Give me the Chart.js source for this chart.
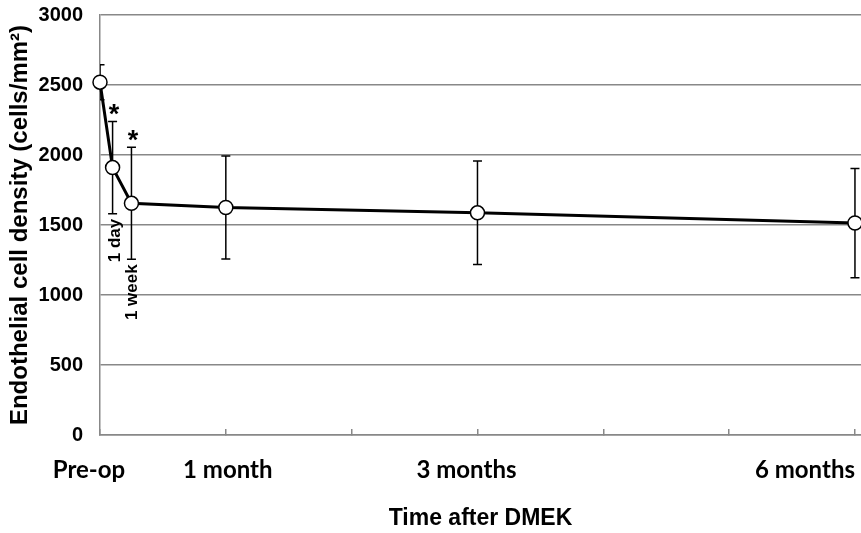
<!DOCTYPE html>
<html>
<head>
<meta charset="utf-8">
<script src="https://cdn.jsdelivr.net/npm/chart.js@4.4.1/dist/chart.umd.min.js"></script>
<style>
  html, body { margin: 0; padding: 0; background: #fff; }
  #wrap { width: 861px; height: 533px; }
</style>
</head>
<body>
<div id="wrap"><canvas id="EcdChart"></canvas></div>
<script>
// time after surgery in months
var timePoints = [0, 0.1, 0.25, 1, 3, 6]
var pointNames = ["Pre-op", "1 day", "1 week", "1 month", "3 months", "6 months"]
var meanEcd = [2520, 1910, 1655, 1625, 1587, 1514]
var sdEcd = [125, 330, 400, 367, 370, 390]
var signif = [false, true, true, false, false, false]
var rotatedNames = ["", "1 day", "1 week", "", "", ""]
var xLabelValues = [0, 1, 3, 6]
var xLabelText = ["Pre-op", "1 month", "3 months", "6 months"]
var yTicks = [0, 500, 1000, 1500, 2000, 2500, 3000]

var gridGrey = "#888888"

// style of the hand-drawn bits
var xLabelAlign = ["center", "center", "center", "right"]
var xLabelShift = [-11, 2, -11, 0]
var rotShift = [0, 3, 1, 0, 0, 0]

var points = timePoints.map((t, i) => ({x: t, y: meanEcd[i]}))

var extras = {
  id: "extras",
  beforeDatasetsDraw(chart) {
    var ctx = chart.ctx
    var xs = chart.scales.x, ys = chart.scales.y
    var area = chart.chartArea
    ctx.save()
    ctx.beginPath()
    ctx.rect(area.left, area.top - 20, area.right - area.left, area.bottom - area.top + 20)
    ctx.clip()
    ctx.strokeStyle = "#000"
    ctx.lineWidth = 1.5
    for (var i = 0; i < timePoints.length; i++) {
      var px = xs.getPixelForValue(timePoints[i])
      var top = ys.getPixelForValue(meanEcd[i] + sdEcd[i])
      var bot = ys.getPixelForValue(meanEcd[i] - sdEcd[i])
      ctx.beginPath()
      ctx.moveTo(px, top); ctx.lineTo(px, bot)
      ctx.moveTo(px - 4.5, top); ctx.lineTo(px + 4.5, top)
      ctx.moveTo(px - 4.5, bot); ctx.lineTo(px + 4.5, bot)
      ctx.stroke()
    }
    ctx.restore()
  },
  afterDraw(chart) {
    var ctx = chart.ctx
    var xs = chart.scales.x, ys = chart.scales.y
    ctx.save()
    ctx.fillStyle = "#000"
    // asterisks and rotated time labels
    for (var i = 0; i < timePoints.length; i++) {
      var px = xs.getPixelForValue(timePoints[i])
      if (signif[i]) {
        var top = ys.getPixelForValue(meanEcd[i] + sdEcd[i])
        ctx.font = "bold 27px 'Liberation Sans', Arial, sans-serif"
        ctx.textAlign = "center"
        ctx.textBaseline = "alphabetic"
        ctx.fillText("*", px + 1.5, top - 11 + 13)
      }
      if (rotatedNames[i]) {
        var bot = ys.getPixelForValue(meanEcd[i] - sdEcd[i])
        ctx.save()
        ctx.translate(px + rotShift[i], bot + 5)
        ctx.rotate(-Math.PI / 2)
        ctx.font = "bold 17px 'Liberation Sans', Arial, sans-serif"
        ctx.textAlign = "right"
        ctx.textBaseline = "middle"
        ctx.fillText(rotatedNames[i], 0, 0)
        ctx.restore()
      }
    }
    // x axis labels
    ctx.font = "bold 24px Lato, 'Open Sans', sans-serif"
    ctx.textBaseline = "middle"
    for (var j = 0; j < xLabelValues.length; j++) {
      ctx.textAlign = xLabelAlign[j]
      ctx.fillText(xLabelText[j], xs.getPixelForValue(xLabelValues[j]) + xLabelShift[j], 470)
    }
    ctx.restore()
  }
}

new Chart("EcdChart", {
  type: "line",
  data: {
    datasets: [
      {
        label: "Endothelial cell density",
        data: points,
        borderColor: "#000",
        borderWidth: 3,
        pointRadius: 7,
        pointHoverRadius: 7,
        pointBackgroundColor: "#fff",
        pointBorderColor: "#000",
        pointBorderWidth: 1.5,
        tension: 0,
        clip: false,
      },
    ],
  },
  options: {
    responsive: true,
    maintainAspectRatio: false,
    animation: false,
    layout: {
      autoPadding: false,
      padding: {top: 15, right: 0, left: 0, bottom: 0},
    },
    plugins: {
      legend: false,
      tooltip: {enabled: false},
    },
    scales: {
      x: {
        type: "linear",
        min: 0,
        max: 6.048,
        afterBuildTicks: (axis) => {
          axis.ticks = [0, 1, 2, 3, 4, 5, 6].map(v => ({value: v}))
        },
        afterFit: (axis) => {
          axis.height = 98
          axis.paddingLeft = 0
          axis.paddingRight = 0
        },
        ticks: {
          callback: () => "",
        },
        grid: {
          drawOnChartArea: false,
          drawTicks: true,
          tickLength: -6,
          color: gridGrey,
          lineWidth: 1.5,
        },
        border: {color: gridGrey, width: 1.5},
        title: {
          display: true,
          text: "Time after DMEK",
          color: "#000",
          font: {family: "'Liberation Sans', Arial, sans-serif", size: 23, weight: "bold"},
          padding: {top: 0, bottom: 1},
        },
      },
      y: {
        min: 0,
        max: 3000,
        afterBuildTicks: (axis) => {
          axis.ticks = yTicks.map(v => ({value: v}))
        },
        afterFit: (axis) => {
          axis.width = 100
          axis.paddingTop = 0
          axis.paddingBottom = 0
        },
        ticks: {
          color: "#000",
          padding: 17,
          callback: (v) => String(v),
          font: {family: "'Liberation Sans', Arial, sans-serif", size: 20, weight: "bold"},
        },
        grid: {
          drawTicks: false,
          color: gridGrey,
          lineWidth: 1.5,
        },
        border: {color: gridGrey, width: 1.5},
        title: {
          display: true,
          text: "Endothelial cell density (cells/mm²)",
          color: "#000",
          font: {family: "'Liberation Sans', Arial, sans-serif", size: 24, weight: "bold"},
          padding: {top: 6, bottom: 0},
        },
      },
    },
  },
  plugins: [extras],
});
</script>
</body>
</html>
